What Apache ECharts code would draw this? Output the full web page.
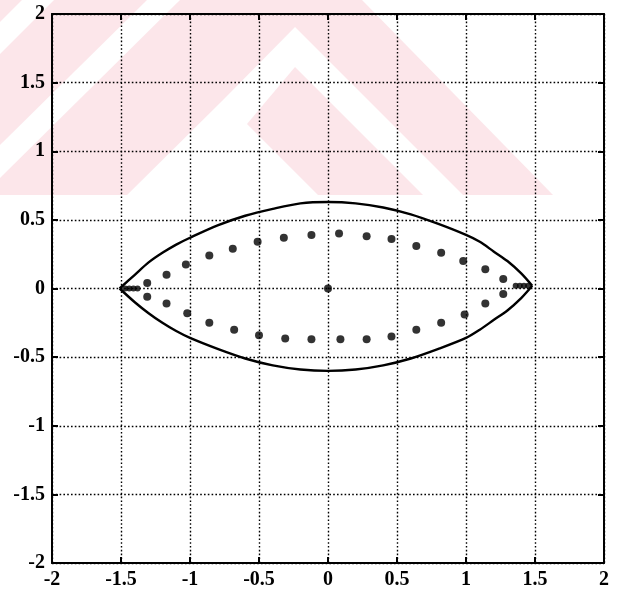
<!DOCTYPE html>
<html>
<head>
<meta charset="utf-8">
<script src="https://cdn.jsdelivr.net/npm/echarts@6/dist/echarts.min.js"></script>
<style>
  html, body { margin: 0; padding: 0; background: #fff; }
  #chart { width: 617px; height: 595px; }
</style>
</head>
<body>
<div id="chart"></div>
<script>
// boundary curve (solid)
const curveX = [-1.51, -1.4, -1.3, -1.2, -1.1, -1.0, -0.8, -0.6, -0.4, -0.2, 0, 0.2, 0.4, 0.6, 0.8, 1.0, 1.1, 1.2, 1.3, 1.4, 1.48];
const upperY = [0, 0.10, 0.19, 0.26, 0.32, 0.37, 0.46, 0.53, 0.58, 0.62, 0.63, 0.62, 0.59, 0.54, 0.47, 0.39, 0.34, 0.27, 0.20, 0.11, 0.02];
const lowerY = [0, -0.10, -0.18, -0.25, -0.31, -0.36, -0.44, -0.51, -0.56, -0.59, -0.60, -0.59, -0.56, -0.51, -0.44, -0.36, -0.30, -0.23, -0.16, -0.07, 0.02];

// dots
const upDotX = [-1.31, -1.17, -1.03, -0.86, -0.69, -0.51, -0.32, -0.12, 0.08, 0.28, 0.46, 0.64, 0.82, 0.98, 1.14, 1.27];
const upDotY = [0.04, 0.10, 0.175, 0.24, 0.29, 0.34, 0.37, 0.39, 0.40, 0.38, 0.36, 0.31, 0.26, 0.20, 0.14, 0.07];
const lowDotX = [-1.31, -1.17, -1.02, -0.86, -0.68, -0.50, -0.31, -0.12, 0.09, 0.28, 0.46, 0.64, 0.82, 0.99, 1.14, 1.27];
const lowDotY = [-0.06, -0.11, -0.18, -0.25, -0.30, -0.34, -0.365, -0.37, -0.37, -0.37, -0.35, -0.30, -0.25, -0.19, -0.11, -0.04];
const centreDot = [[0, 0]];
const axisDotX = [-1.47, -1.44, -1.41, -1.38, 1.36, 1.39, 1.42, 1.45];
const axisDotY = [0, 0, 0, 0, 0.02, 0.02, 0.02, 0.02];

const zip = (xs, ys) => xs.map((x, i) => [x, ys[i]]);

const labelFont = {
  fontFamily: "Liberation Serif",
  fontWeight: "bold",
  fontSize: 20,
  color: "#000"
};

const gridDots = {
  show: true,
  lineStyle: { color: "#000", width: 1.4, type: [1.6, 2.2] }
};

function makeAxis(pos, main) {
  return {
    type: "value",
    position: pos,
    min: -2,
    max: 2,
    interval: 0.5,
    axisLine: { show: true, onZero: false, lineStyle: { color: "#000", width: 2 } },
    axisTick: { show: true, inside: true, length: 6, lineStyle: { color: "#000", width: 2 } },
    axisLabel: main ? Object.assign({ margin: 7, formatter: (v) => String(v) }, labelFont) : { show: false },
    splitLine: main ? gridDots : { show: false }
  };
}

// faint pink watermark from the scanned page
const pink = "#fce6ea";
const wm = [
  { fill: pink, pts: [[0, 0], [362, 0], [553, 195], [0, 195]] },
  { fill: "#fff", pts: [[22, 0], [54, 0], [0, 54], [0, 22]] },
  { fill: "#fff", pts: [[147, 0], [180, 0], [0, 178], [0, 145]] },
  { fill: "#fff", pts: [[295, 27], [463, 195], [127, 195], [223, 100]] },
  { fill: pink, pts: [[295, 67], [423, 195], [318, 195], [247, 124]] }
];

const option = {
  backgroundColor: "#fff",
  animation: false,
  graphic: wm.map((w) => ({
    type: "polygon",
    silent: true,
    z: -10,
    shape: { points: w.pts },
    style: { fill: w.fill }
  })),
  grid: { left: 52, right: 13, top: 14, bottom: 32 },
  xAxis: [makeAxis("bottom", true), makeAxis("top", false)],
  yAxis: [makeAxis("left", true), makeAxis("right", false)],
  series: [
    {
      type: "line",
      data: zip(curveX, upperY),
      smooth: 0.3,
      showSymbol: false,
      lineStyle: { color: "#000", width: 2.4 },
      z: 3
    },
    {
      type: "line",
      data: zip(curveX, lowerY),
      smooth: 0.3,
      showSymbol: false,
      lineStyle: { color: "#000", width: 2.4 },
      z: 3
    },
    {
      type: "scatter",
      data: zip(upDotX, upDotY).concat(zip(lowDotX, lowDotY), centreDot),
      symbol: "circle",
      symbolSize: 8,
      itemStyle: { color: "#000" },
      z: 4
    },
    {
      type: "scatter",
      data: zip(axisDotX, axisDotY),
      symbol: "circle",
      symbolSize: 6,
      itemStyle: { color: "#000" },
      z: 4
    }
  ]
};

const chart = echarts.init(document.getElementById("chart"));
chart.setOption(option);
window.addEventListener("resize", () => chart.resize());
</script>
</body>
</html>
